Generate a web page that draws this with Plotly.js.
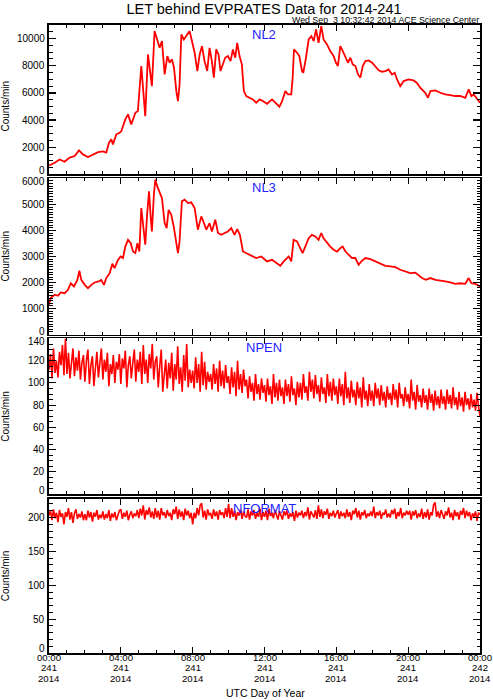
<!DOCTYPE html>
<html><head><meta charset="utf-8">
<script src="https://cdn.plot.ly/plotly-3.0.1.min.js"></script>
<style>html,body{margin:0;padding:0;background:#fff}#chart{width:493px;height:700px}</style>
</head><body><div id="chart"></div>
<script>
const chartTitle = 'LET behind EVPRATES Data for 2014-241';
const stampText = 'Wed Sep \u00a03 10:32:42 2014 ACE Science Center';
const panelNames = ['NL2', 'NL3', 'NPEN', 'NFORMAT'];
const yTitle = 'Counts/min';
const xTitle = 'UTC Day of Year';
const tickHours = [0, 4, 8, 12, 16, 20, 24];
const tickTimes = ['00:00', '04:00', '08:00', '12:00', '16:00', '20:00', '00:00'];
const tickDays = ['241', '241', '241', '241', '241', '241', '242'];
const tickYears = ['2014', '2014', '2014', '2014', '2014', '2014', '2014'];
const nl2Ticks = [0, 2000, 4000, 6000, 8000, 10000];
const nl3Ticks = [0, 1000, 2000, 3000, 4000, 5000, 6000];
const npenTicks = [0, 20, 40, 60, 80, 100, 120, 140];
const nformatTicks = [0, 50, 100, 150, 200];

const nl2Hours = [0,0.32,0.59,0.87,1.15,1.43,1.67,1.89,2.17,2.45,
2.73,3.01,3.19,3.34,3.47,3.56,3.75,3.93,4.03,4.25,
4.40,4.58,4.81,4.95,5.14,5.25,5.36,5.51,5.60,5.73,
5.88,6.03,6.16,6.29,6.44,6.59,6.72,6.85,6.96,7.09,
7.18,7.27,7.37,7.51,7.70,7.83,7.96,8.11,8.26,8.39,
8.52,8.66,8.81,8.94,9.07,9.18,9.31,9.44,9.55,9.68,
9.81,9.96,10.11,10.24,10.37,10.48,10.61,10.74,10.85,10.98,
11.17,11.35,11.54,11.73,11.91,12.14,12.42,12.70,12.83,12.97,
13.16,13.31,13.49,13.57,13.64,13.81,13.94,14.09,14.16,14.31,
14.46,14.61,14.74,14.87,15.01,15.16,15.29,15.48,15.66,15.85,
15.98,16.09,16.22,16.36,16.51,16.65,16.78,16.91,17.06,17.21,
17.34,17.47,17.62,17.80,17.99,18.17,18.36,18.54,18.73,18.91,
19.10,19.25,19.38,19.56,19.75,20.02,20.30,20.48,20.67,20.95,
21.10,21.24,21.51,21.79,22.07,22.34,22.62,22.90,23.18,23.37,
23.52,23.65,23.84,24.0];
const nl2Counts = [650,860,1100,930,1230,1350,1770,1470,1280,1470,
1640,1690,1600,2330,2580,2210,2950,3070,3190,4050,
4420,3680,4540,4660,7980,6130,4290,8830,7980,6500,
10550,9940,9320,9820,7360,8710,8220,8470,7850,6130,
5400,6620,10300,9940,10300,10550,9820,8960,7610,8830,
9450,8340,7610,9320,8340,7120,9200,8830,7610,8100,
8590,8710,8340,9200,8590,9690,8710,8100,6130,5770,
5640,5520,5280,5520,5400,5200,5520,5150,4980,5350,
6130,5890,5890,7120,9200,8960,8710,7610,7480,8590,
9940,10180,9820,10680,9690,10920,9940,9570,9080,8710,
8220,7980,9450,9080,8590,8220,8590,8100,7980,7360,
7120,7980,8340,8390,8220,7980,7660,7560,7610,7730,
7360,7480,6990,6500,6870,6990,6920,6750,6380,6010,
5640,6130,6180,6010,5890,5840,5770,5770,5640,6260,
5770,5890,5520,5280];

const nl3Hours = [0,0.09,0.32,0.50,0.65,0.87,1.06,1.21,1.39,1.58,
1.69,1.80,1.99,2.17,2.36,2.54,2.76,2.91,3.06,3.19,
3.38,3.53,3.65,3.84,3.99,4.12,4.25,4.40,4.55,4.68,
4.81,4.92,5.03,5.14,5.25,5.36,5.47,5.57,5.66,5.73,
5.84,5.92,6.03,6.16,6.29,6.44,6.55,6.66,6.81,6.96,
7.09,7.18,7.27,7.40,7.55,7.74,7.92,8.11,8.29,8.48,
8.63,8.76,8.94,9.07,9.26,9.41,9.59,9.78,9.96,10.15,
10.33,10.48,10.63,10.80,10.98,11.26,11.54,11.82,12.14,12.42,
12.70,12.88,13.07,13.35,13.49,13.62,13.81,13.99,14.12,14.27,
14.46,14.64,14.83,15.01,15.16,15.29,15.48,15.66,15.85,16.04,
16.22,16.35,16.51,16.69,16.87,17.06,17.24,17.39,17.62,17.90,
18.17,18.45,18.73,19.01,19.29,19.56,19.84,20.12,20.40,20.58,
20.77,20.99,21.24,21.52,21.79,22.07,22.35,22.62,22.90,23.18,
23.37,23.52,23.73,24.0];
const nl3Counts = [1140,1400,1530,1490,1620,1590,1720,1970,1850,2100,
2450,2100,1910,1780,1910,2000,2040,2100,1910,2170,
2360,2720,2550,2870,3000,2940,3380,3640,3510,3190,
3130,3510,3190,4860,4150,3450,4670,5500,4540,3960,
5370,5950,5690,5440,5240,4280,4090,4790,4600,4090,
3510,3130,3580,5120,5180,5050,5080,4860,4030,4540,
4280,4030,4280,3960,4410,3900,3830,3900,3960,4090,
3830,4050,3830,3190,3130,3030,2940,3000,2810,2870,
2720,2640,2810,3000,2810,3640,3580,3320,3130,3380,
3700,3830,3770,3640,3900,3700,3510,3380,3260,3190,
3320,3380,3190,3060,2940,2940,2680,2810,2940,2900,
2810,2720,2640,2620,2590,2490,2420,2360,2380,2290,
2170,2100,2170,2100,2080,2040,2000,1950,1970,1950,
2170,1970,1950,1850];

// NPEN and NFORMAT: one value every 5 minutes from 00:00 (12 per hour)
const sampleStepHours = 1 / 12;
const npenCounts = [
112,126,104,131,109,120,105,128,116,134,107,140,
108,127,104,119,131,106,123,111,129,103,118,125,
101,120,130,99,116,124,97,113,128,105,119,131,
103,121,110,127,97,117,108,125,100,119,112,126,
99,122,113,129,96,116,124,104,118,130,101,121,
110,128,99,134,108,121,100,126,113,135,103,119,
124,96,115,130,92,111,121,95,118,104,127,93,
117,103,133,99,114,92,125,102,135,96,112,100,
111,95,123,100,117,92,128,98,119,94,110,101,
108,94,117,99,113,92,120,97,111,95,116,100,
106,90,114,96,110,88,120,94,108,91,112,97,
103,86,106,92,100,84,108,90,99,85,104,91,
98,83,104,89,97,81,108,87,100,84,103,88,
96,81,103,88,99,83,106,89,95,80,101,87,
100,85,108,91,97,84,110,92,103,86,107,90,
98,83,105,90,96,82,108,88,101,84,104,89,
97,81,104,88,99,80,110,86,96,82,102,87,
94,80,101,86,96,78,105,85,93,79,99,84,
93,79,100,86,95,80,98,84,92,78,97,85,
91,80,99,85,94,78,100,86,90,79,96,83,
90,77,103,84,92,76,98,83,89,78,95,82,
89,76,95,82,90,75,93,80,88,77,94,81,
88,76,94,81,89,77,96,80,87,76,92,79,
87,74,92,80,86,76,90,78,85,75,91,79,
70];
const nformatCounts = [
203,210,196,212,199,207,193,211,201,206,190,208,
201,214,197,208,192,206,212,198,205,200,209,196,
205,196,210,200,208,194,207,201,211,197,204,199,
209,197,205,199,211,195,206,200,208,196,203,210,
212,198,207,201,210,196,204,209,199,206,202,211,
199,213,203,218,197,211,204,215,200,209,198,214,
200,210,197,214,203,208,199,211,202,207,196,212,
205,216,198,212,201,209,196,213,203,210,199,207,
190,207,199,214,203,218,221,200,210,197,212,204,
206,198,212,202,209,197,211,204,208,199,214,201,
220,199,214,201,210,196,208,203,212,198,209,202,
200,212,197,209,203,211,198,207,201,213,196,208,
201,210,196,213,202,207,199,211,204,197,209,203,
197,209,203,211,198,206,201,208,195,210,200,207,
203,210,199,208,202,215,197,209,204,200,211,198,
218,201,212,199,209,204,213,198,207,202,210,200,
206,211,198,209,202,207,199,212,201,208,196,210,
205,214,200,210,197,208,203,211,199,206,202,209,
202,216,199,208,203,210,198,207,204,212,200,206,
200,211,205,213,198,208,202,214,199,207,203,210,
204,210,197,209,203,211,199,206,201,213,198,208,
200,212,197,208,203,219,222,201,209,199,211,204,
198,209,203,215,200,207,196,211,202,208,197,210,
204,214,199,210,202,208,196,206,201,209,195,207,
204];
const npenHours = npenCounts.map((v, i) => i * sampleStepHours);
const nformatHours = nformatCounts.map((v, i) => i * sampleStepHours);

const font = 'Liberation Sans, Arial, sans-serif';
const series = [
  {x: nl2Hours, y: nl2Counts, xa: 'x', ya: 'y', w: 1.8},
  {x: nl3Hours, y: nl3Counts, xa: 'x2', ya: 'y2', w: 1.8},
  {x: npenHours, y: npenCounts, xa: 'x3', ya: 'y3', w: 1.6},
  {x: nformatHours, y: nformatCounts, xa: 'x4', ya: 'y4', w: 1.6}
];
const traces = series.map(s => ({
  type: 'scatter', mode: 'lines', x: s.x, y: s.y, xaxis: s.xa, yaxis: s.ya,
  line: {color: '#ff0000', width: s.w}, hoverinfo: 'skip', showlegend: false
}));

const plotTop = 25, plotBottom = 652.7, plotLeft = 49, plotRight = 480;
const plotH = plotBottom - plotTop, plotW = plotRight - plotLeft;
const py = px => (plotBottom - px) / plotH;
const pxX = px => (px - plotLeft) / plotW;
const panelPx = [[25, 174.3], [178.3, 334.4], [338.3, 493.8], [498.3, 652.7]];
const yRanges = [[0, 11000], [0, 6000], [0, 140], [0, 228]];
const yTickLists = [nl2Ticks, nl3Ticks, npenTicks, nformatTicks];
const yMinor = [500, 100, 5, 10];
const yTitleCenters = [106, 256, 416, 575.5];
const yRefs = ['y', 'y2', 'y3', 'y4'];

function xAxis(i) {
  return {
    domain: [0, 1], range: [0, 24], anchor: yRefs[i],
    tickmode: 'array', tickvals: tickHours, showticklabels: false,
    ticks: 'inside', ticklen: 6, tickwidth: 1.2, tickcolor: '#000',
    minor: {dtick: 1, tick0: 0, ticks: 'inside', ticklen: 3, tickwidth: 1, tickcolor: '#000'},
    showline: true, linecolor: '#000', linewidth: 1.6, mirror: 'allticks',
    showgrid: false, zeroline: false, fixedrange: true
  };
}
function yAxis(i) {
  const [t, b] = panelPx[i];
  return {
    domain: [py(b), py(t)], range: yRanges[i], anchor: i === 0 ? 'x' : 'x' + (i + 1),
    tickmode: 'array', tickvals: yTickLists[i], showticklabels: false,
    ticks: 'inside', ticklen: 7, tickwidth: 1.2, tickcolor: '#000',
    minor: {dtick: yMinor[i], tick0: 0, ticks: 'inside', ticklen: 3.5, tickwidth: 1, tickcolor: '#000'},
    showline: true, linecolor: '#000', linewidth: 1.6, mirror: 'allticks',
    showgrid: false, zeroline: false, fixedrange: true
  };
}

const annotations = [];
annotations.push({text: stampText, xref: 'paper', yref: 'paper', x: 1, y: py(20),
  xanchor: 'right', yanchor: 'middle', showarrow: false, borderpad: 0,
  font: {family: font, size: 8.8, color: '#000'}});
panelNames.forEach((name, i) => {
  annotations.push({text: name, xref: 'paper', yref: 'paper', x: pxX(264), y: py(panelPx[i][0] + 9.5),
    xanchor: 'center', yanchor: 'middle', showarrow: false, borderpad: 0,
    font: {family: font, size: 13, color: '#2222ff'}});
  annotations.push({text: yTitle, xref: 'paper', yref: 'paper', x: pxX(5.5), y: py(yTitleCenters[i]),
    xanchor: 'center', yanchor: 'middle', textangle: -90, showarrow: false, borderpad: 0,
    font: {family: font, size: 10, color: '#000'}});
  const [lo, hi] = yRanges[i];
  yTickLists[i].forEach(v => {
    annotations.push({text: String(v), xref: 'paper', yref: yRefs[i], x: pxX(45.5), y: v,
      xanchor: 'right', yanchor: 'middle', showarrow: false, borderpad: 0,
      yshift: v === lo ? (i === 3 ? 4.5 : 3.5) : (v === hi ? -3 : 0),
      font: {family: font, size: 10, color: '#000'}});
  });
});
const tickLineRows = [[tickTimes, 657.3], [tickDays, 667.6], [tickYears, 677.9]];
tickLineRows.forEach(([labels, ypx]) => {
  labels.forEach((lab, i) => {
    annotations.push({text: lab, xref: 'x4', yref: 'paper', x: tickHours[i], y: py(ypx),
      xanchor: 'center', yanchor: 'middle', showarrow: false, borderpad: 0,
      font: {family: font, size: 9.6, color: '#000'}});
  });
});
annotations.push({text: xTitle, xref: 'paper', yref: 'paper', x: pxX(265), y: py(692.7),
  xanchor: 'center', yanchor: 'middle', showarrow: false, borderpad: 0,
  font: {family: font, size: 10.5, color: '#000'}});

const layout = {
  width: 493, height: 700,
  margin: {l: plotLeft, r: 493 - plotRight, t: plotTop, b: 700 - plotBottom, autoexpand: false},
  paper_bgcolor: '#fff', plot_bgcolor: '#fff',
  title: {text: chartTitle, xref: 'container', yref: 'container', x: 264 / 493, y: 1 - 8.5 / 700,
    xanchor: 'center', yanchor: 'middle', font: {family: font, size: 14.5, color: '#000'}},
  xaxis: xAxis(0), xaxis2: xAxis(1), xaxis3: xAxis(2), xaxis4: xAxis(3),
  yaxis: yAxis(0), yaxis2: yAxis(1), yaxis3: yAxis(2), yaxis4: yAxis(3),
  annotations: annotations, showlegend: false, hovermode: false
};
Plotly.newPlot('chart', traces, layout, {staticPlot: true, displayModeBar: false});
</script>
</body></html>
